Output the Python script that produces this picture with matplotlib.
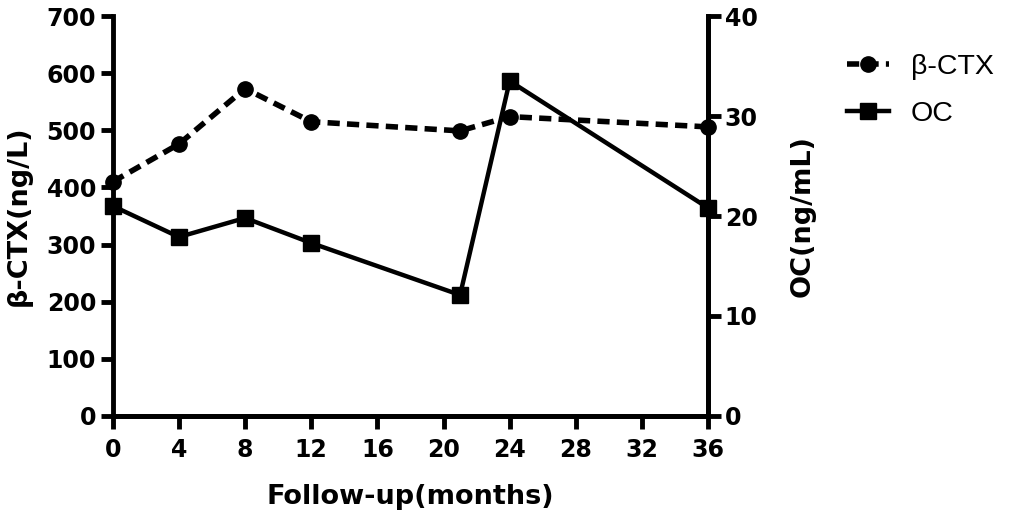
import matplotlib
matplotlib.use("Agg")
import matplotlib.pyplot as plt

# Data
months = [0, 4, 8, 12, 21, 24, 36]
ctx = [410, 476, 573, 515, 499, 524, 506]       # beta-CTX (ng/L), left axis
oc = [21.0, 17.9, 19.8, 17.3, 12.1, 33.5, 20.8]  # OC (ng/mL), right axis

x_ticks = [0, 4, 8, 12, 16, 20, 24, 28, 32, 36]
left_ticks = [0, 100, 200, 300, 400, 500, 600, 700]
right_ticks = [0, 10, 20, 30, 40]

plt.rcParams['font.family'] = ['DejaVu Sans']

fig = plt.figure(figsize=(10.16, 5.18), dpi=100)
ax = fig.add_axes([0.111, 0.197, 0.586, 0.772])
ax2 = ax.twinx()

# Lines
l1, = ax.plot(months, ctx, color='black', linestyle=(0, (2.2, 1.3)), linewidth=4,
              marker='o', markersize=11, label='\u03b2-CTX', clip_on=False, zorder=3)
l2, = ax2.plot(months, oc, color='black', linestyle='-', linewidth=3.2,
               marker='s', markersize=11.5, label='OC', clip_on=False, zorder=3)

ax.set_xlim(0, 36)
ax.set_ylim(0, 700)
ax2.set_ylim(0, 40)
ax.set_xticks(x_ticks)
ax.set_yticks(left_ticks)
ax2.set_yticks(right_ticks)

for a in (ax, ax2):
    a.spines['top'].set_visible(False)
    for s in a.spines.values():
        s.set_linewidth(3.5)
    a.tick_params(width=3.5, length=9, labelsize=17, direction='out', pad=3)
    for lab in a.get_xticklabels() + a.get_yticklabels():
        lab.set_fontweight('bold')
ax2.spines['left'].set_visible(False)
ax.tick_params(axis='x', pad=7)

ax.set_xlabel('Follow-up(months)', fontsize=19.5, fontweight='bold', labelpad=16)
ax.set_ylabel('\u03b2-CTX(ng/L)', fontsize=19.5, fontweight='bold', labelpad=11)
ax2.set_ylabel('OC(ng/mL)', fontsize=19.5, fontweight='bold', labelpad=23)

fig.legend(handles=[l1, l2], loc='upper left', bbox_to_anchor=(0.808, 0.945),
           frameon=False, prop={'family': 'Liberation Sans', 'size': 20.5},
           handlelength=1.5, labelspacing=0.72, handletextpad=0.75)

fig.savefig('out.png', dpi=100)
